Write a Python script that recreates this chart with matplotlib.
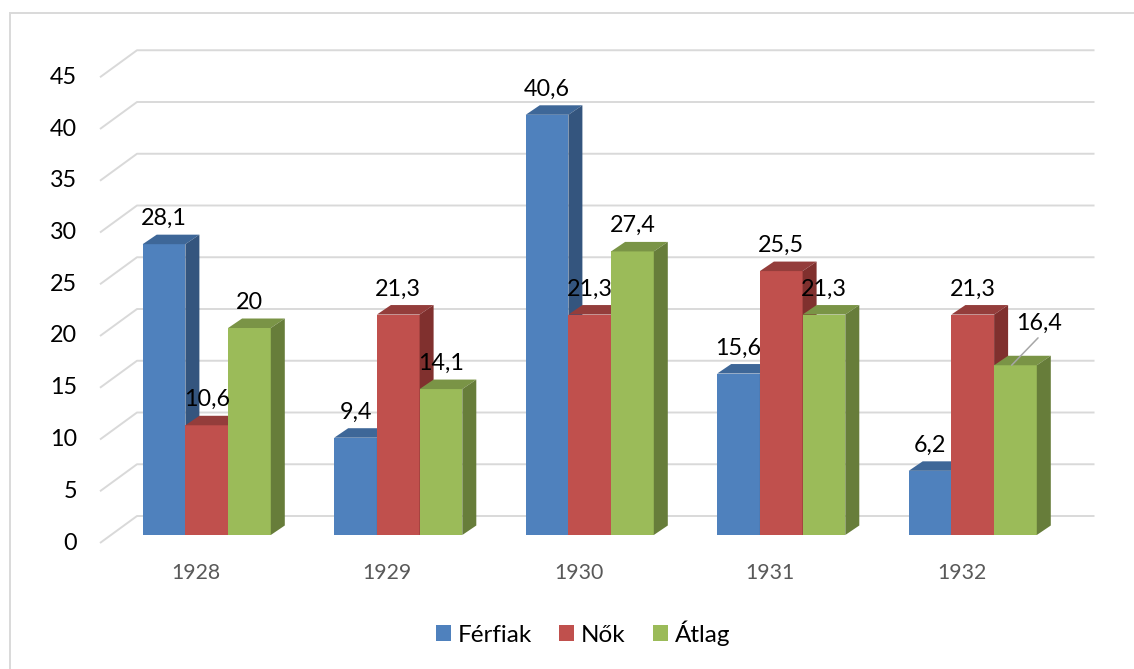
import matplotlib.pyplot as plt
from matplotlib.patches import Polygon, Patch, Rectangle

plt.rcParams['font.family'] = ['Lato', 'DejaVu Sans']

# data
years = ['1928', '1929', '1930', '1931', '1932']
series = ['Férfiak', 'Nők', 'Átlag']
ferfiak = [28.1, 9.4, 40.6, 15.6, 6.2]
nok = [10.6, 21.3, 21.3, 25.5, 21.3]
atlag = [20, 14.1, 27.4, 21.3, 16.4]
labels = [['28,1', '9,4', '40,6', '15,6', '6,2'],
          ['10,6', '21,3', '21,3', '25,5', '21,3'],
          ['20', '14,1', '27,4', '21,3', '16,4']]
yticks = [0, 5, 10, 15, 20, 25, 30, 35, 40, 45]

# colours: front, top, side
colors = [('#4F81BD', '#3E6798', '#34557E'),
          ('#C0504D', '#943D3B', '#80302E'),
          ('#9BBB59', '#7A9446', '#677D3A')]

# pixel scale of the drawing (data -> pixels)
W, H = 1134, 669
SX, SY = 191.5, 10.35      # px per category, px per value
X0, Y0 = 100, 543          # front floor origin in pixels

fig = plt.figure(figsize=(W / 100, H / 100), dpi=100)
ax = fig.add_axes([0, 0, 1, 1])
ax.set_xlim(-X0 / SX, (W - X0) / SX)
ax.set_ylim((Y0 - H) / SY, Y0 / SY)
ax.axis('off')

# floor depth and bar geometry (data units)
DX, DY = 37 / SX, 27 / SY
FX, FY = 11 / SX, 8 / SY
BW = 42.7 / SX
BDX, BDY = 14 / SX, 9.5 / SY
ncat = len(years)

grid_c = '#D9D9D9'
for v in yticks:
    ax.plot([0, DX, ncat + DX], [v, v + DY, v + DY], color=grid_c, lw=1.4,
            solid_capstyle='butt', zorder=1)
    ax.text(-0.12, v, str(v), ha='right', va='center', fontsize=16.8, color='black')

for i, y in enumerate(years):
    ax.text(i + 0.5, -2.9, y, ha='center', va='center', fontsize=15.3, color='#595959')

values = [ferfiak, nok, atlag]
z = 2
for i in range(ncat):
    for j, vals in enumerate(values):
        v = vals[i]
        x0 = i + 0.5 + FX - 1.5 * BW + j * BW
        x1 = x0 + BW
        yb, yt = FY, v + FY
        front, top, side = colors[j]
        ax.add_patch(Polygon([(x0, yb), (x1, yb), (x1, yt), (x0, yt)],
                             closed=True, fc=front, ec='none', zorder=z))
        ax.add_patch(Polygon([(x0, yt), (x1, yt), (x1 + BDX, yt + BDY), (x0 + BDX, yt + BDY)],
                             closed=True, fc=top, ec='none', zorder=z))
        ax.add_patch(Polygon([(x1, yb), (x1 + BDX, yb + BDY), (x1 + BDX, yt + BDY), (x1, yt)],
                             closed=True, fc=side, ec='none', zorder=z))
        z += 1

# data labels
for i in range(ncat):
    for j, vals in enumerate(values):
        v = vals[i]
        xc = i + 0.5 + FX - 1.5 * BW + (j + 0.5) * BW
        if i == 4 and j == 2:
            ax.annotate(labels[j][i], xy=(xc - 0.02, v + FY), xytext=(20, 30),
                        textcoords='offset points', ha='center', va='center',
                        fontsize=16.8, zorder=50,
                        arrowprops=dict(arrowstyle='-', color='#A6A6A6', lw=1.1,
                                        relpos=(0.55, 0), shrinkA=1, shrinkB=0))
        else:
            ax.annotate(labels[j][i], xy=(xc, v + FY), xytext=(0, 18.5),
                        textcoords='offset points', ha='center', va='center',
                        fontsize=16.8, zorder=50)

# outer border
fig.patches.append(Rectangle((10 / W, -0.1), 1.2, 1 - 13 / H + 0.1,
                             transform=fig.transFigure, fill=False,
                             ec=grid_c, lw=1.4))

handles = [Patch(fc=c[0], ec='none') for c in colors]
fig.legend(handles, series, loc='center', bbox_to_anchor=(583 / W, 1 - 633 / H),
           ncol=3, frameon=False, fontsize=17.5, handlelength=0.62, handleheight=0.62,
           handletextpad=0.3, columnspacing=1.1)

fig.savefig('out.png', dpi=100)
